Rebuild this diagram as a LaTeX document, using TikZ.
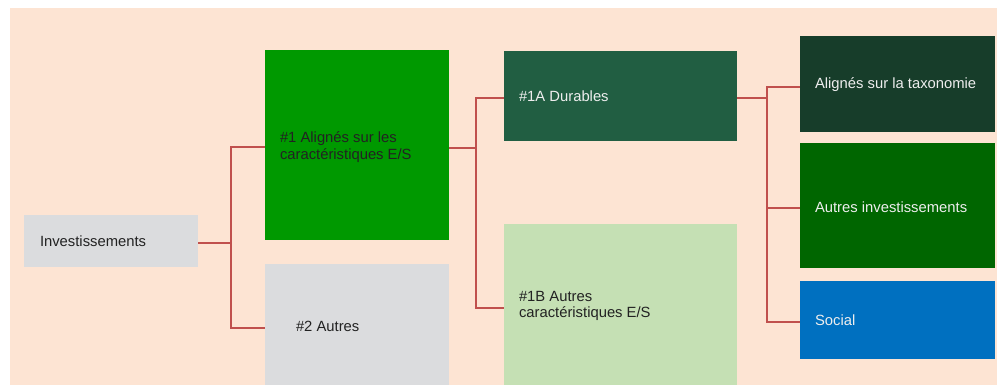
\documentclass[tikz,border=0pt]{standalone}
\usepackage{fontspec}
\setmainfont{Liberation Sans}
\definecolor{bgpeach}{HTML}{FDE4D3}
\definecolor{boxgrey}{HTML}{DBDCDE}
\definecolor{boxgreen}{HTML}{009900}
\definecolor{boxdur}{HTML}{215E42}
\definecolor{boxlight}{HTML}{C5E0B4}
\definecolor{boxtax}{HTML}{173D2A}
\definecolor{boxother}{HTML}{006600}
\definecolor{boxsocial}{HTML}{0070C0}
\definecolor{connred}{HTML}{C0504D}
\definecolor{darktext}{HTML}{222222}
\definecolor{lighttext}{HTML}{EEEEEE}
\begin{document}
\begin{tikzpicture}[x=1pt,y=1pt,
  box/.style={rectangle, inner sep=0pt, anchor=center},
  txt/.style={anchor=west, inner sep=0pt, align=left,
    font=\fontsize{14.8}{16.5}\selectfont},
  conn/.style={draw=connred, line width=2pt}]
\useasboundingbox (0,0) rectangle (997,385);
\fill[bgpeach] (10,0) rectangle (997,377);
\node[box, fill=boxgrey, minimum width=174pt, minimum height=52pt] (inv) at (111,144) {};
\node[box, fill=boxgreen, minimum width=184pt, minimum height=190pt] (n1) at (357,240) {};
\node[box, fill=boxgrey, minimum width=184pt, minimum height=121pt] (n2) at (357,60.5) {};
\node[box, fill=boxdur, minimum width=233pt, minimum height=90pt] (a) at (620.5,289) {};
\node[box, fill=boxlight, minimum width=233pt, minimum height=161pt] (b) at (620.5,80.5) {};
\node[box, fill=boxtax, minimum width=195pt, minimum height=96pt] (t1) at (897.5,301) {};
\node[box, fill=boxother, minimum width=195pt, minimum height=125pt] (t2) at (897.5,179.5) {};
\node[box, fill=boxsocial, minimum width=195pt, minimum height=78pt] (t3) at (897.5,65) {};
\node[txt, text=darktext] (invt) at ([shift={(16,-0.5)}]inv.west) {Investissements};
\node[txt, text=darktext] (n1t) at ([shift={(15,-2)}]n1.west) {\#1 Alignés sur les\\caractéristiques E/S};
\node[txt, text=darktext] (n2t) at ([shift={(31,-1.5)}]n2.west) {\#2 Autres};
\node[txt, text=lighttext] (at) at ([shift={(15,0)}]a.west) {\#1A Durables};
\node[txt, text=darktext] (bt) at ([shift={(15,-1.5)}]b.west) {\#1B Autres\\caractéristiques E/S};
\node[txt, text=lighttext] (t1t) at ([shift={(15,-1)}]t1.west) {Alignés sur la taxonomie};
\node[txt, text=lighttext] (t2t) at ([shift={(15,-1.5)}]t2.west) {Autres investissements};
\node[txt, text=lighttext] (t3t) at ([shift={(15,-0.5)}]t3.west) {Social};
\coordinate (j1) at (231,142);
\coordinate (j2) at (476,237);
\coordinate (j3) at (767,287);
\draw[conn] ([yshift=-2pt]inv.east) -- (j1);
\draw[conn] ([yshift=-2pt]n1.west) -| (j1) |- ([yshift=-3.5pt]n2.west);
\draw[conn] ([yshift=-3pt]n1.east) -- (j2);
\draw[conn] ([yshift=-2pt]a.west) -| (j2) |- ([yshift=-3.5pt]b.west);
\draw[conn] ([yshift=-2pt]a.east) -- (j3);
\draw[conn] ([yshift=-3pt]t1.west) -| (j3) |- ([yshift=-2.5pt]t3.west);
\draw[conn] (j3 |- t2.west) ++(0,-2.5) -- ([yshift=-2.5pt]t2.west);
\end{tikzpicture}
\end{document}
